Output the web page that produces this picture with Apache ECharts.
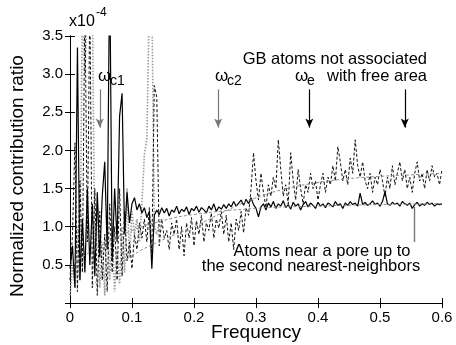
<!DOCTYPE html>
<html><head><meta charset="utf-8">
<script src="https://cdn.jsdelivr.net/npm/echarts@6/dist/echarts.min.js"></script>
<style>html,body{margin:0;padding:0;background:#fff}#c{width:456px;height:345px}</style>
</head><body><div id="c"></div>
<script>
const freq = [
0,0.004,0.008,0.012,0.016,0.02,0.024,0.028,0.032,0.036,
0.04,0.044,0.048,0.052,0.056,0.06,0.064,0.068,0.072,0.076,
0.08,0.084,0.088,0.092,0.096,0.1,0.104,0.108,0.112,0.116,
0.12,0.124,0.128,0.132,0.136,0.14,0.144,0.148,0.152,0.156,
0.16,0.164,0.168,0.172,0.176,0.18,0.184,0.188,0.192,0.196,
0.2,0.204,0.208,0.212,0.216,0.22,0.224,0.228,0.232,0.236,
0.24,0.244,0.248,0.252,0.256,0.26,0.264,0.268,0.272,0.276,
0.28,0.284,0.288,0.292,0.296,0.3,0.304,0.308,0.312,0.316,
0.32,0.324,0.328,0.332,0.336,0.34,0.344,0.348,0.352,0.356,
0.36,0.364,0.368,0.372,0.376,0.38,0.384,0.388,0.392,0.396,
0.4,0.404,0.408,0.412,0.416,0.42,0.424,0.428,0.432,0.436,
0.44,0.444,0.448,0.452,0.456,0.46,0.464,0.468,0.472,0.476,
0.48,0.484,0.488,0.492,0.496,0.5,0.504,0.508,0.512,0.516,
0.52,0.524,0.528,0.532,0.536,0.54,0.544,0.548,0.552,0.556,
0.56,0.564,0.568,0.572,0.576,0.58,0.584,0.588,0.592,0.596,
0.6];
// Atoms near a pore (solid)
const poreAtoms = [
0.45,0.75,0.2,3.35,0.3,1.1,0.4,1.5,0.5,1.3,
0.35,1.45,0.6,1.4,1.85,0.7,4.5,0.55,1.5,0.8,
2.45,2.75,0.9,1.45,1.05,1.3,1.38,1.22,1.3,1.18,
1.25,1.12,1.2,0.45,1.15,1.22,1.16,1.25,1.18,1.24,
1.14,1.22,1.19,1.27,1.17,1.23,1.2,1.26,1.16,1.24,
1.21,1.27,1.19,1.25,1.22,1.18,1.27,1.22,1.3,1.2,
1.26,1.23,1.29,1.24,1.3,1.26,1.33,1.27,1.31,1.35,
1.28,1.36,1.3,1.38,1.29,1.24,1.13,1.26,1.3,1.22,
1.31,1.26,1.33,1.24,1.3,1.27,1.34,1.25,1.29,1.23,
1.32,1.27,1.3,1.22,1.29,1.33,1.26,1.31,1.28,1.24,
1.32,1.27,1.3,1.25,1.31,1.29,1.26,1.33,1.28,1.3,
1.24,1.31,1.28,1.33,1.29,1.31,1.27,1.44,1.29,1.32,
1.28,1.3,1.34,1.29,1.31,1.27,1.33,1.46,1.3,1.28,
1.32,1.29,1.31,1.27,1.33,1.3,1.28,1.31,1.24,1.29,
1.32,1.27,1.3,1.28,1.32,1.29,1.31,1.27,1.3,1.29,
1.3];
// GB atoms not associated with free area (dashed)
const gbAtoms = [
0.3,0.9,2.1,0.15,1.6,0.4,4.0,0.8,4.0,0.2,
1.5,0.1,1.2,0.3,0.9,0.15,1.3,0.4,1.0,0.3,
1.5,0.35,1.2,0.55,0.8,0.45,0.9,0.7,1.05,0.85,
1.1,0.8,1.25,0.65,2.85,2.7,0.75,1.1,0.85,0.95,
0.7,1.05,0.9,1.1,0.7,1.0,0.62,1.05,0.85,1.12,
0.75,1.08,0.9,1.15,0.8,1.05,0.95,1.18,0.85,1.1,
0.98,1.2,0.9,1.15,0.8,1.05,0.7,1.1,0.95,1.2,
0.92,1.25,1.15,1.5,1.97,1.6,1.35,1.7,1.45,1.25,
1.55,1.4,1.65,1.5,2.14,1.75,1.4,1.55,1.3,1.97,
1.6,1.35,1.75,1.5,1.3,1.55,1.45,1.7,1.5,1.6,
1.35,1.55,1.7,1.45,1.65,1.55,1.8,1.6,2.05,1.85,
1.6,1.75,1.55,1.9,1.7,2.14,1.8,1.65,1.85,1.6,
1.5,1.7,1.45,1.65,1.55,1.75,1.6,1.4,1.65,1.5,
1.8,1.55,1.7,1.85,1.6,1.75,1.5,1.65,1.45,1.7,
1.85,1.6,1.7,1.5,1.75,1.6,1.8,1.65,1.7,1.55,
1.75];
// third (gray dotted) low-frequency series
const grayLow = [
0.1,0.5,0.2,1.0,0.3,4.0,3.0,4.0,4.0,4.0,
0.6,1.3,0.2,0.8,0.1,1.1,0.3,0.9,0.15,0.7,
0.25,1.0,0.4,1.5,0.6,1.2,0.9,1.1,0.8,1.3,
1.95,2.15,4.0,4.0,1.0,0.9,1.05,1.1];
// smooth trend curves
const fitGBx = [0.035,0.05,0.1,0.15,0.2,0.25,0.3,0.35,0.4,0.45,0.5,0.55,0.6];
const fitGBy = [0.22,0.33,0.62,0.83,1.0,1.2,1.38,1.5,1.58,1.63,1.66,1.68,1.7];
const fitPoreX = [0,0.05,0.1,0.15,0.2,0.3,0.4,0.5,0.6];
const fitPoreY = [0.5,0.75,0.95,1.08,1.16,1.24,1.27,1.29,1.3];
const xTicks = [0,0.1,0.2,0.3,0.4,0.5,0.6];
const yTicks = [0.5,1.0,1.5,2.0,2.5,3.0,3.5];

const F = "'Liberation Sans', Arial, Helvetica, sans-serif";
const pair = (xs, ys) => ys.map((v, i) => [xs[i], v]);
const chart = echarts.init(document.getElementById('c'));
const axisBase = {
  type: 'value',
  axisLine: { show: true, lineStyle: { color: '#000', width: 1 } },
  axisTick: { show: true, inside: true, length: 5, lineStyle: { color: '#000' } },
  splitLine: { show: false }
};
function arrow(x, y1, y2, color) {
  return [
    { coord: [x, y1], symbol: 'none', lineStyle: { color: color, width: 1.2, type: 'solid' } },
    { coord: [x, y2], symbol: 'arrow', symbolSize: [6, 9] }
  ];
}
chart.setOption({
  animation: false,
  grid: { left: 70, right: 14, top: 36, bottom: 42 },
  xAxis: [
    Object.assign({}, axisBase, { position: 'bottom', min: 0, max: 0.6, interval: 0.1,
      axisLabel: { color: '#000', fontSize: 15, fontFamily: F, margin: 7,
        formatter: v => v === 0 ? '0' : v.toFixed(1) } }),
    Object.assign({}, axisBase, { position: 'top', min: 0, max: 0.6, interval: 0.1, axisLabel: { show: false } })
  ],
  yAxis: [
    Object.assign({}, axisBase, { position: 'left', min: 0, max: 3.5, interval: 0.5,
      axisLabel: { color: '#000', fontSize: 15, fontFamily: F, margin: 7,
        formatter: v => v === 0 ? '' : v.toFixed(1) } }),
    Object.assign({}, axisBase, { position: 'right', min: 0, max: 3.5, interval: 0.5, axisLabel: { show: false } })
  ],
  series: [
    { type: 'line', data: pair(freq, grayLow), showSymbol: false, symbol: 'none',
      lineStyle: { color: '#9a9a9a', width: 1.6, type: [1.5, 1.5] }, z: 1 },
    { type: 'line', data: pair(freq, gbAtoms), showSymbol: false, symbol: 'none',
      lineStyle: { color: '#111', width: 1, type: [3, 2] }, z: 2 },
    { type: 'line', data: pair(freq, poreAtoms), showSymbol: false, symbol: 'none',
      lineStyle: { color: '#000', width: 1.2 }, z: 3,
      markLine: { silent: true, animation: false, label: { show: false }, symbol: ['none', 'arrow'],
        data: [
          arrow(0.048, 2.8, 2.3, '#777'),
          arrow(0.239, 2.8, 2.3, '#777'),
          arrow(0.386, 2.8, 2.3, '#000'),
          arrow(0.540, 2.8, 2.3, '#000'),
          [ { coord: [0.556, 0.8], symbol: 'none', lineStyle: { color: '#777', width: 1.4, type: 'solid' } },
            { coord: [0.556, 1.26], symbol: 'none' } ]
        ] } },
    { type: 'line', data: pair(fitGBx, fitGBy), smooth: true, showSymbol: false, symbol: 'none',
      lineStyle: { color: '#8a8a8a', width: 1, type: [3, 2] }, z: 4 },
    { type: 'line', data: pair(fitPoreX, fitPoreY), smooth: true, showSymbol: false, symbol: 'none',
      lineStyle: { color: '#8a8a8a', width: 1, type: [3, 2] }, z: 4 }
  ],
  graphic: [
    { type: 'text', x: 256, y: 333, style: { text: 'Frequency', font: '19px ' + F, fill: '#000', textAlign: 'center', textVerticalAlign: 'middle' } },
    { type: 'text', x: 18, y: 176, rotation: Math.PI / 2, style: { text: 'Normalized contribution ratio', font: '19px ' + F, fill: '#000', textAlign: 'center', textVerticalAlign: 'middle' } },
    { type: 'text', x: 69, y: 22, style: { text: 'x10', font: '16px ' + F, fill: '#000', textAlign: 'left', textVerticalAlign: 'middle' } },
    { type: 'text', x: 96, y: 13, style: { text: '-4', font: '12px ' + F, fill: '#000', textAlign: 'left', textVerticalAlign: 'middle' } },
    { type: 'text', x: 98, y: 76, style: { text: 'ω', font: '17px ' + F, fill: '#000', textAlign: 'left', textVerticalAlign: 'middle' } },
    { type: 'text', x: 110, y: 81, style: { text: 'c1', font: '14px ' + F, fill: '#000', textAlign: 'left', textVerticalAlign: 'middle' } },
    { type: 'text', x: 215, y: 76, style: { text: 'ω', font: '17px ' + F, fill: '#000', textAlign: 'left', textVerticalAlign: 'middle' } },
    { type: 'text', x: 227, y: 81, style: { text: 'c2', font: '14px ' + F, fill: '#000', textAlign: 'left', textVerticalAlign: 'middle' } },
    { type: 'text', x: 295, y: 76, style: { text: 'ω', font: '17px ' + F, fill: '#000', textAlign: 'left', textVerticalAlign: 'middle' } },
    { type: 'text', x: 307, y: 81, style: { text: 'e', font: '14px ' + F, fill: '#000', textAlign: 'left', textVerticalAlign: 'middle' } },
    { type: 'text', x: 427, y: 59, style: { text: 'GB atoms not associated', font: '16.5px ' + F, fill: '#000', textAlign: 'right', textVerticalAlign: 'middle' } },
    { type: 'text', x: 427, y: 76, style: { text: 'with free area', font: '16.5px ' + F, fill: '#000', textAlign: 'right', textVerticalAlign: 'middle' } },
    { type: 'text', x: 322, y: 251, style: { text: 'Atoms near a pore up to', font: '16.5px ' + F, fill: '#000', textAlign: 'center', textVerticalAlign: 'middle' } },
    { type: 'text', x: 311, y: 266, style: { text: 'the second nearest-neighbors', font: '16.5px ' + F, fill: '#000', textAlign: 'center', textVerticalAlign: 'middle' } }
  ]
});
</script>
</body></html>
